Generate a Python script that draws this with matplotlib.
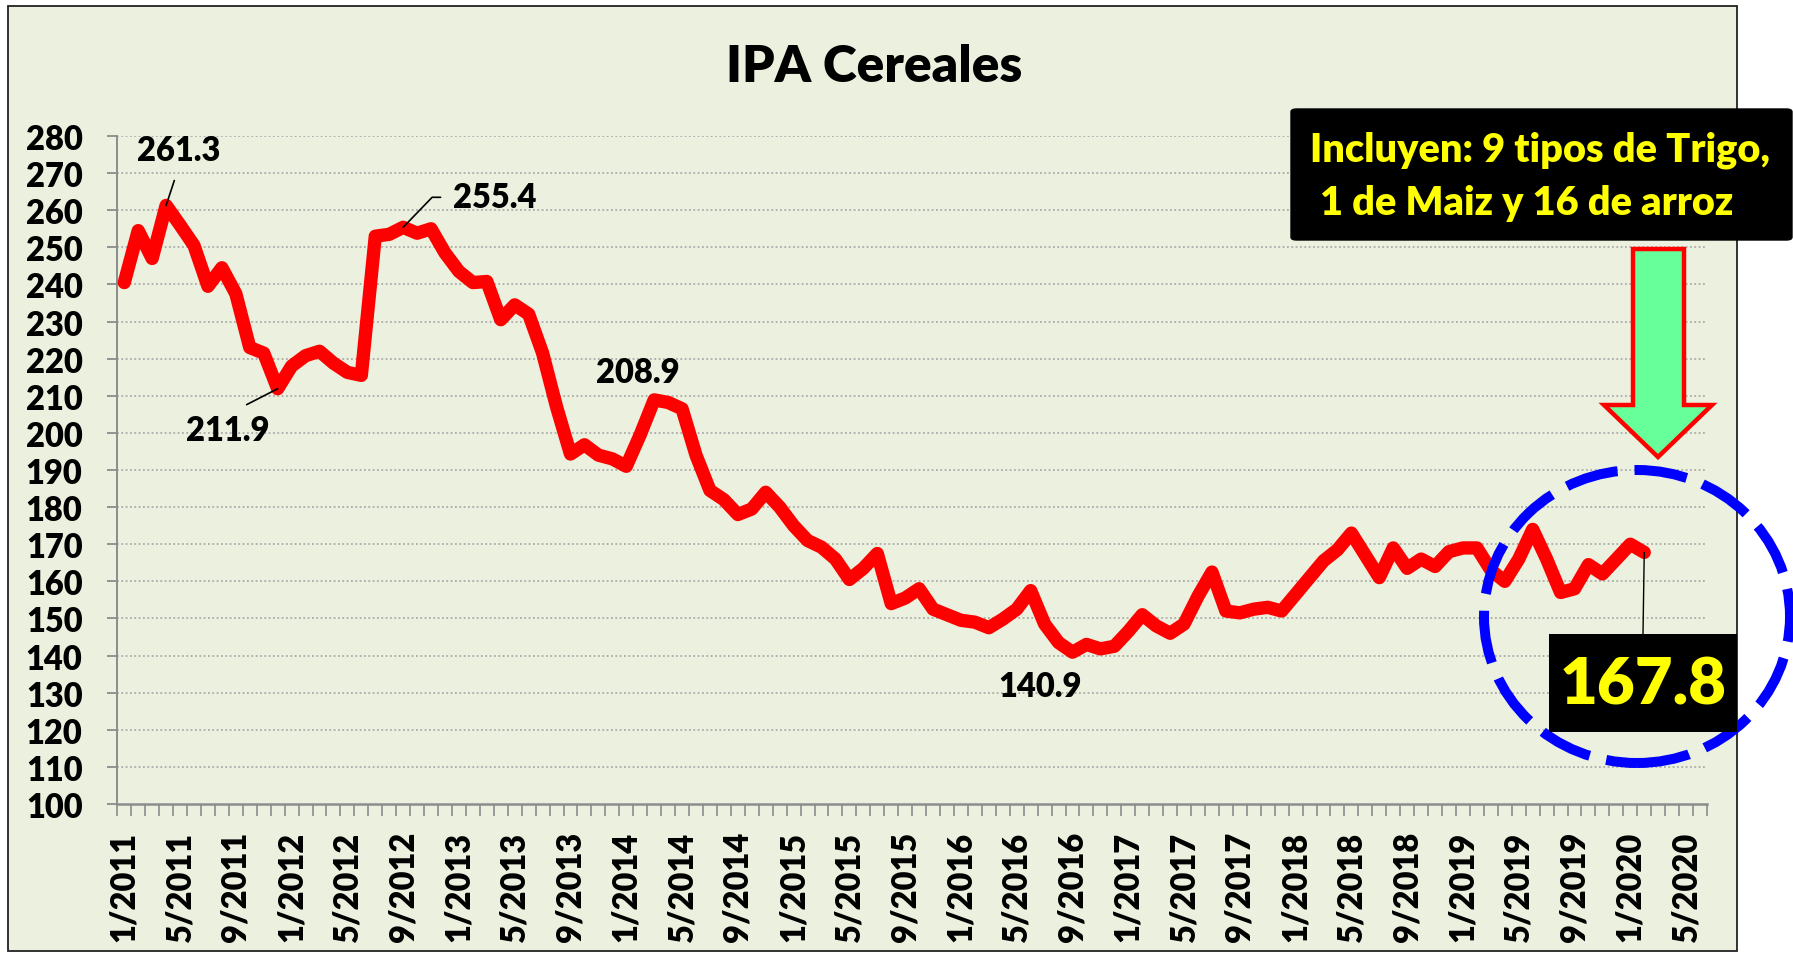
import matplotlib
matplotlib.use("Agg")
import matplotlib.pyplot as plt
import matplotlib.font_manager as fm
from matplotlib.patches import Rectangle, Ellipse, Polygon, FancyBboxPatch

# ---------------- data ----------------
values = [
    240.5, 254.5, 247.0, 261.3, 256.0, 250.5, 239.5, 244.5, 237.5, 223.0, 221.5, 211.9,
    218.0, 220.8, 222.0, 218.8, 216.3, 215.5, 253.0, 253.5, 255.4, 253.8, 255.0, 248.5,
    243.5, 240.5, 240.8, 230.5, 234.5, 232.0, 221.5, 207.0, 194.3, 196.8, 194.0, 193.0,
    191.0, 199.5, 208.9, 208.2, 206.5, 194.0, 184.5, 182.0, 178.0, 179.5, 184.0, 180.0,
    175.0, 171.0, 169.2, 166.0, 160.5, 163.5, 167.5, 154.0, 155.5, 158.0, 152.5, 151.0,
    149.5, 149.0, 147.5, 149.8, 152.5, 157.5, 148.5, 143.5, 140.9, 143.0, 141.8, 142.5,
    146.5, 151.0, 148.0, 146.0, 148.5, 156.0, 162.5, 152.0, 151.5, 152.5, 153.0, 152.0,
    156.5, 161.0, 165.5, 168.5, 173.0, 167.0, 161.0, 169.0, 163.5, 166.0, 164.0, 168.0,
    169.0, 169.0, 163.0, 160.0, 166.0, 174.0, 166.0, 157.0, 158.0, 164.5, 162.0, 166.0,
    170.0, 167.8,
]
n_categories = 114  # 1/2011 .. 6/2020
tick_labels = ["1/2011", "5/2011", "9/2011", "1/2012", "5/2012", "9/2012", "1/2013",
               "5/2013", "9/2013", "1/2014", "5/2014", "9/2014", "1/2015", "5/2015",
               "9/2015", "1/2016", "5/2016", "9/2016", "1/2017", "5/2017", "9/2017",
               "1/2018", "5/2018", "9/2018", "1/2019", "5/2019", "9/2019", "1/2020",
               "5/2020"]
yticks = list(range(100, 281, 10))
title = "IPA Cereales"
note_lines = ["Incluyen: 9 tipos de Trigo,", "1 de Maiz y 16 de arroz"]
labelled = {3: "261.3", 11: "211.9", 20: "255.4", 38: "208.9", 68: "140.9"}

# ---------------- style ----------------
avail = {f.name for f in fm.fontManager.ttflist}
FONT = "Lato" if "Lato" in avail else "DejaVu Sans"
plt.rcParams["font.family"] = FONT
WEIGHT = "heavy"
plt.rcParams["font.weight"] = WEIGHT

W, H = 1793, 954
BG = "#EBF1DE"
GRAY = "#8C8C8C"


def fx(px):
    return px / W


def fy(py):
    return 1 - py / H


fig = plt.figure(figsize=(W / 100, H / 100), dpi=100, facecolor="white")

# chart-area frame
fig.patches.append(Rectangle((fx(8), fy(952)), fx(1737) - fx(8), fy(7) - fy(952),
                             transform=fig.transFigure, facecolor=BG,
                             edgecolor="#222222", linewidth=1.3, zorder=-10))

ax = fig.add_axes([fx(117.3), fy(805), fx(1707) - fx(117.3), fy(137) - fy(805)])
ax.set_facecolor("none")

x = list(range(len(values)))
ax.plot(x, values, color="#FF0000", linewidth=9.6, solid_joinstyle="round",
        solid_capstyle="round", zorder=3)

ax.set_xlim(-0.5, n_categories - 0.5)
ax.set_ylim(100, 280)
ax.set_yticks(yticks)
ax.set_yticklabels([str(v) for v in yticks])
ax.set_xticks(list(range(0, n_categories, 4))[:len(tick_labels)])
ax.set_xticklabels(tick_labels, rotation=90)
ax.set_xticks([i - 0.5 for i in range(n_categories + 1)], minor=True)

ax.tick_params(axis="y", which="major", length=7, width=1.3, color=GRAY, pad=18,
               labelsize=23.5, labelcolor="black")
ax.tick_params(axis="x", which="major", length=0, pad=19.5, labelsize=23.5,
               labelcolor="black")
ax.tick_params(axis="x", which="minor", length=8.5, width=1.2, color=GRAY)
for lab in ax.get_xticklabels() + ax.get_yticklabels():
    lab.set_fontweight(WEIGHT)

for s in ("top", "right"):
    ax.spines[s].set_visible(False)
ax.spines["left"].set_color(GRAY)
ax.spines["left"].set_linewidth(1.4)
ax.spines["bottom"].set_color(GRAY)
ax.spines["bottom"].set_linewidth(1.8)

for v in yticks[1:]:
    ax.axhline(v, color="#ABABAB", linewidth=1.3, linestyle=(0, (1, 1.4)), zorder=1)

# title
fig.text(fx(874), fy(82), title, ha="center", va="baseline", fontsize=37,
         fontweight=WEIGHT, color="black")

# value labels
offsets = {3: (9.4, 40), 11: (-36, -30), 20: (66, 21.6), 38: (-11.8, 20), 68: (-23, -24.5)}
for i, txt in labelled.items():
    dx, dy = offsets[i]
    kw = {}
    if i == 3:
        kw["arrowprops"] = dict(arrowstyle="-", color="black", lw=1.2, shrinkA=9, shrinkB=0,
                                relpos=(0.5, 0.0))
    elif i == 11:
        kw["arrowprops"] = dict(arrowstyle="-", color="black", lw=1.2, shrinkA=11, shrinkB=0,
                                relpos=(0.5, 1.0))
    elif i == 20:
        kw["arrowprops"] = dict(arrowstyle="-", color="black", lw=1.2, shrinkA=7, shrinkB=0,
                                relpos=(0.0, 0.5),
                                connectionstyle="angle,angleA=0,angleB=46,rad=0")
    ax.annotate(txt, xy=(i, values[i]), xytext=(dx, dy), textcoords="offset points",
                ha="center", va="center", fontsize=23.5, fontweight=WEIGHT,
                color="black", zorder=5, annotation_clip=False, **kw)

# dashed blue ellipse
ell = Ellipse((fx(1637), fy(617.5)), fx(306), 293 / H,
              transform=fig.transFigure, fill=False, edgecolor="#0000FF",
              linewidth=7.2, linestyle=(0, (5.3, 1.7)), clip_on=False, zorder=4)
ax.add_patch(ell)

# last value box (black rectangle) with leader line and yellow value
last = len(values) - 1
vbox = Rectangle((fx(1549), fy(733)), fx(1737) - fx(1549), fy(635) - fy(733),
                 transform=fig.transFigure, facecolor="black", edgecolor="black",
                 linewidth=0, clip_on=False, zorder=6)
ax.add_patch(vbox)
ax.annotate("", xy=(last, values[last]), xytext=(fx(1643), fy(635)),
            textcoords="figure fraction", zorder=6, annotation_clip=False,
            arrowprops=dict(arrowstyle="-", color="black", lw=1.0, shrinkA=0, shrinkB=0))
ax.text(fx(1643), fy(686), f"{values[last]:.1f}", transform=fig.transFigure,
        ha="center", va="center", fontsize=47, fontweight=WEIGHT, color="#FFFF00",
        zorder=7, clip_on=False)

# green arrow
arrow_px = [(1633, 250), (1684, 250), (1684, 406), (1712, 406), (1658, 458),
            (1604, 406), (1633, 406)]
arr = Polygon([(fx(a), fy(b)) for a, b in arrow_px], closed=True,
              transform=fig.transFigure, facecolor="#66FF99", edgecolor="#FF0000",
              linewidth=3.2, joinstyle="miter", clip_on=False, zorder=4)
ax.add_patch(arr)

# note box
box = FancyBboxPatch((fx(1291), fy(241)), fx(1792) - fx(1291), fy(110) - fy(241),
                     boxstyle="round,pad=0,rounding_size=0.003",
                     transform=fig.transFigure, facecolor="black", edgecolor="black",
                     linewidth=1, zorder=7)
fig.patches.append(box)
fig.text(fx(1540), fy(161.7), note_lines[0], ha="center", va="baseline", fontsize=28.5,
         fontweight=WEIGHT, color="#FFFF00", zorder=8)
fig.text(fx(1527), fy(215), note_lines[1], ha="center", va="baseline", fontsize=28.5,
         fontweight=WEIGHT, color="#FFFF00", zorder=8)

fig.savefig("out.png", dpi=100, facecolor="white")
